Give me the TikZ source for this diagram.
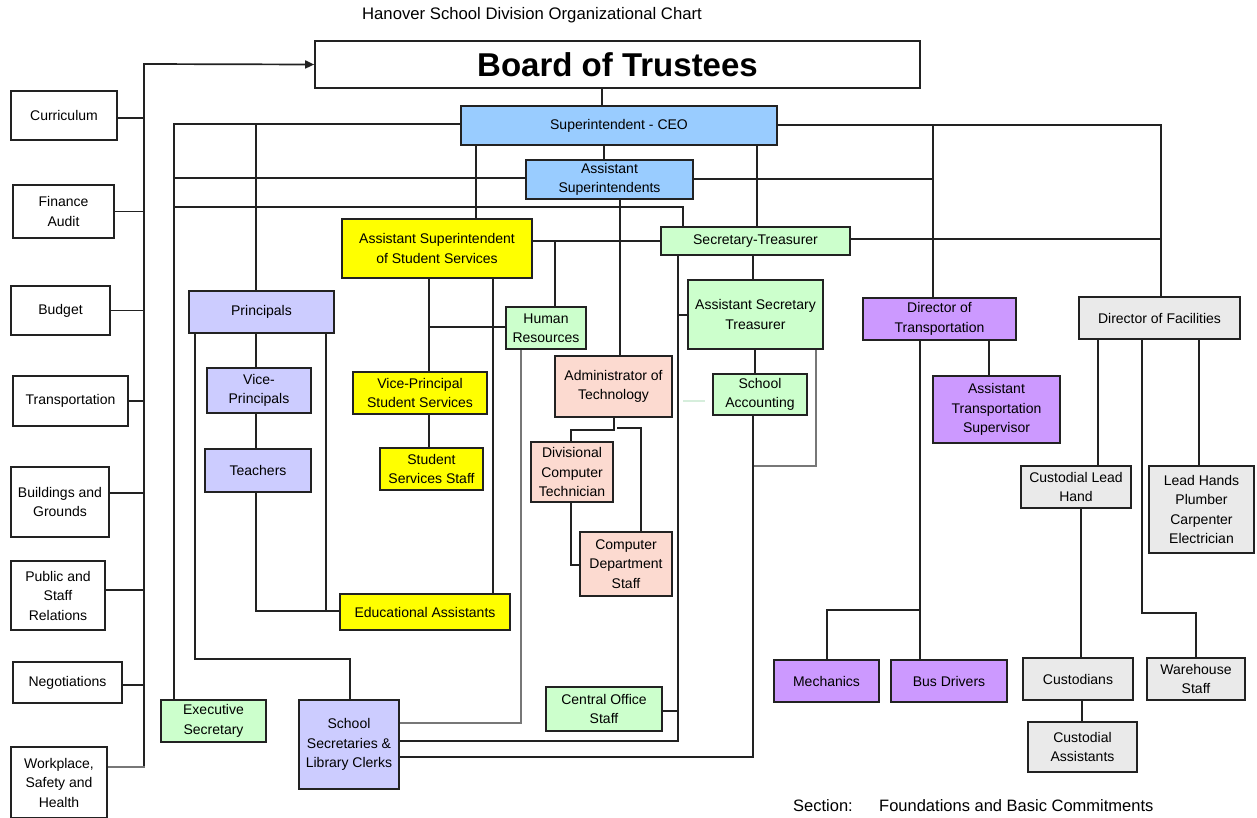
\documentclass[tikz,border=0pt]{standalone}
\usepackage{fontspec}
\setmainfont{Liberation Sans}
\usetikzlibrary{arrows.meta,backgrounds}
\definecolor{cblue}{HTML}{99CCFF}
\definecolor{clav}{HTML}{CCCCFF}
\definecolor{cyel}{HTML}{FFFF00}
\definecolor{cgreen}{HTML}{CCFFCC}
\definecolor{cpeach}{HTML}{FCDAD0}
\definecolor{cpurp}{HTML}{CC99FF}
\definecolor{cgray}{HTML}{EAEAEA}
\definecolor{cline}{HTML}{222222}
\definecolor{cgline}{HTML}{777777}
\definecolor{cfaint}{HTML}{D6EEDC}
\newcommand\orgbox[7]{\node[box, fill=#6, minimum width={(#4-#2)*1pt}, minimum height={(#5-#3)*1pt}] (#1) at ({(#2+#4)/2},{(#3+#5)/2}) {#7};}
\begin{document}
\begin{tikzpicture}[x=1pt,y=-1pt,
  box/.style={draw=cline, line width=1.7pt, inner sep=1pt, align=center, text=black, font=\fontsize{14}{19.5}\selectfont},
  conn/.style={draw=cline, line width=1.7pt, line cap=rect},
  gconn/.style={draw=cgline, line width=1.7pt, line cap=rect}]
\useasboundingbox (0,0) rectangle (1257,817);

\foreach \v in {144,174,195,256,326,350,429,476,493,521,555,571,602,604,614,618,620,641,678,683,705,753,755,757,816,827,920,933,989,1081,1082,1098,1142,1161,1196,1199}
  {\coordinate (x\v) at (\v,0);}
\foreach \v in {64,124,125,178,179,207,239,241,315,327,401,428,430,466,565,610,611,613,659,711,723,741,757,767}
  {\coordinate (y\v) at (0,\v);}

% title and footer
\node[inner sep=0, font=\fontsize{16.7}{20}\selectfont] (title) at (532,15) {Hanover School Division Organizational Chart};
\node[anchor=west, inner sep=0, font=\fontsize{16.5}{20}\selectfont] (sect) at (793,806) {Section:};
\node[anchor=west, inner sep=0, font=\fontsize{16.5}{20}\selectfont] (found) at (879,806) {Foundations and Basic Commitments};

% board
\node[box, fill=white, minimum width=605pt, minimum height=47pt, font=\bfseries\fontsize{33}{38}\selectfont] (board) at (617.5,64.5) {Board of Trustees};

% left committees
\orgbox{curr}{11}{91}{117}{140}{white}{Curriculum}
\orgbox{fin}{13}{185}{114}{238}{white}{Finance\\Audit}
\orgbox{budget}{11}{286}{110}{335}{white}{Budget}
\orgbox{trans}{13}{376}{128}{426}{white}{Transportation}
\orgbox{build}{11}{467}{109}{537}{white}{Buildings and\\Grounds}
\orgbox{public}{11}{561}{105}{630}{white}{Public and\\Staff\\Relations}
\orgbox{nego}{13}{662}{122}{703}{white}{Negotiations}
\orgbox{work}{11}{747}{107}{818}{white}{Workplace,\\Safety and\\Health}

% central
\orgbox{super}{461}{106}{777}{145}{cblue}{Superintendent - CEO}
\orgbox{asup}{526}{160}{693}{199}{cblue}{Assistant\\Superintendents}
\orgbox{asss}{342}{219}{532}{278}{cyel}{Assistant Superintendent\\of Student Services}
\orgbox{st}{661}{227}{850}{255}{cgreen}{Secretary-Treasurer}
\orgbox{hr}{506}{307}{586}{349}{cgreen}{Human\\Resources}
\orgbox{ast}{688}{280}{823}{349}{cgreen}{Assistant Secretary\\Treasurer}
\orgbox{sacc}{713}{374}{807}{415}{cgreen}{School\\Accounting}
\orgbox{admin}{555}{356}{672}{417}{cpeach}{Administrator of\\Technology}
\orgbox{dct}{531}{442}{613}{502}{cpeach}{Divisional\\Computer\\Technician}
\orgbox{cds}{580}{532}{672}{596}{cpeach}{Computer\\Department\\Staff}
\orgbox{cos}{546}{687}{662}{731}{cgreen}{Central Office\\Staff}
\orgbox{ssec}{299}{700}{399}{789}{clav}{School\\Secretaries \&\\Library Clerks}
\orgbox{princ}{189}{291}{334}{333}{clav}{Principals}
\orgbox{vp}{207}{368}{311}{413}{clav}{Vice-\\Principals}
\orgbox{teach}{205}{449}{311}{492}{clav}{Teachers}
\orgbox{vpss}{353}{372}{487}{414}{cyel}{Vice-Principal\\Student Services}
\orgbox{sss}{380}{448}{483}{490}{cyel}{Student\\Services Staff}
\orgbox{ea}{340}{594}{510}{630}{cyel}{Educational Assistants}
\orgbox{exec}{161}{700}{266}{742}{cgreen}{Executive\\Secretary}
\orgbox{dot}{863}{298}{1016}{340}{cpurp}{Director of\\Transportation}
\orgbox{ats}{933}{376}{1060}{443}{cpurp}{Assistant\\Transportation\\Supervisor}
\orgbox{mech}{774}{660}{879}{702}{cpurp}{Mechanics}
\orgbox{bus}{891}{660}{1007}{702}{cpurp}{Bus Drivers}
\orgbox{dof}{1079}{297}{1240}{339}{cgray}{Director of Facilities}
\orgbox{clh}{1021}{466}{1131}{508}{cgray}{Custodial Lead\\Hand}
\orgbox{lh}{1149}{466}{1254}{553}{cgray}{Lead Hands\\Plumber\\Carpenter\\Electrician}
\orgbox{cust}{1023}{658}{1133}{700}{cgray}{Custodians}
\orgbox{ca}{1028}{722}{1137}{772}{cgray}{Custodial\\Assistants}
\orgbox{wh}{1147}{658}{1245}{700}{cgray}{Warehouse\\Staff}

\begin{pgfonlayer}{background}
\fill[white] (0,0) rectangle (1257,817);
% left bus and arrow
\draw[conn] (x144 |- y767) -- (x144 |- y64);
\draw[conn, -{Triangle[length=9pt,width=8pt]}] (x144 |- y64) -- (board.west);
\draw[conn] ([yshift=-2.5pt]curr.east) -- ([yshift=-2.5pt]curr.east -| x144);
\draw[conn] (fin.east) -- (fin.east -| x144);
\draw[conn] (budget.east) -- (budget.east -| x144);
\draw[conn] (trans.east) -- (trans.east -| x144);
\draw[conn] ([yshift=9pt]build.east) -- ([yshift=9pt]build.east -| x144);
\draw[conn] ([yshift=5.5pt]public.east) -- ([yshift=5.5pt]public.east -| x144);
\draw[conn] ([yshift=-2.5pt]nego.east) -- ([yshift=-2.5pt]nego.east -| x144);
\draw[gconn] ([yshift=15.5pt]work.east) -- ([yshift=15.5pt]work.east -| x144);
% board / superintendent
\draw[conn] (board.south -| x602) -- (super.north -| x602);
\draw[conn] (super.west |- y124) -- (x174 |- y124) -- (exec.north -| x174);
\draw[conn] (x256 |- y124) -- (princ.north -| x256);
\draw[conn] (super.south -| x604) -- (asup.north -| x604);
\draw[conn] (asup.west |- y178) -- (x174 |- y178);
\draw[conn] (x174 |- y207) -- (x683 |- y207) -- (st.north -| x683);
\draw[conn] (super.south -| x476) -- (asss.north -| x476);
\draw[conn] (super.south -| x757) -- (st.north -| x757);
\draw[conn] (super.east |- y125) -- (x1161 |- y125) -- (dof.north -| x1161);
\draw[conn] (x933 |- y125) -- (dot.north -| x933);
\draw[conn] (asup.east |- y179) -- (x933 |- y179);
\draw[conn] (asup.south -| x620) -- (admin.north -| x620);
\draw[conn] (st.east |- y239) -- (x1161 |- y239);
% student services / HR
\draw[conn] (asss.east |- y241) -- (st.west |- y241);
\draw[conn] (x555 |- y241) -- (hr.north -| x555);
\draw[conn] (x429 |- y327) -- (hr.west |- y327);
\draw[gconn] (hr.south -| x521) -- (x521 |- y723) -- (ssec.east |- y723);
\draw[conn] (asss.south -| x429) -- (vpss.north -| x429);
\draw[conn] (vpss.south -| x429) -- (sss.north -| x429);
\draw[conn] (asss.south -| x493) -- (ea.north -| x493);
% secretary-treasurer
\draw[conn] (st.south -| x753) -- (ast.north -| x753);
\draw[conn] (st.south -| x678) -- (x678 |- y741) -- (ssec.east |- y741);
\draw[conn] (x678 |- y315) -- (ast.west |- y315);
\draw[conn] (cos.east |- y711) -- (x678 |- y711);
\draw[conn] (ast.south -| x755) -- (sacc.north -| x755);
\draw[gconn] (ast.south -| x816) -- (x816 |- y466) -- (x753 |- y466);
\draw[conn] (sacc.south -| x753) -- (x753 |- y757) -- (ssec.east |- y757);
\draw[cfaint, line width=1.4pt] (x683 |- y401) -- (x705 |- y401);
% technology
\draw[conn] (admin.south -| x614) -- (x614 |- y430) -- (x571 |- y430) -- (dct.north -| x571);
\draw[conn] (x618 |- y428) -- (x641 |- y428) -- (cds.north -| x641);
\draw[conn] (dct.south -| x571) -- (x571 |- y565) -- (cds.west |- y565);
% principals
\draw[conn] (princ.south -| x256) -- (vp.north -| x256);
\draw[conn] (vp.south -| x256) -- (teach.north -| x256);
\draw[conn] (teach.south -| x256) -- (x256 |- y611) -- (ea.west |- y611);
\draw[conn] (princ.south -| x326) -- (x326 |- y611);
\draw[conn] (princ.south -| x195) -- (x195 |- y659) -- (x350 |- y659) -- (ssec.north -| x350);
% transportation
\draw[conn] (dot.south -| x920) -- (bus.north -| x920);
\draw[conn] (x920 |- y610) -- (x827 |- y610) -- (mech.north -| x827);
\draw[conn] (dot.south -| x989) -- (ats.north -| x989);
% facilities
\draw[conn] (dof.south -| x1098) -- (clh.north -| x1098);
\draw[conn] (dof.south -| x1142) -- (x1142 |- y613) -- (x1196 |- y613) -- (wh.north -| x1196);
\draw[conn] (dof.south -| x1199) -- (lh.north -| x1199);
\draw[conn] (clh.south -| x1081) -- (cust.north -| x1081);
\draw[conn] (cust.south -| x1082) -- (ca.north -| x1082);
\end{pgfonlayer}
\end{tikzpicture}
\end{document}
